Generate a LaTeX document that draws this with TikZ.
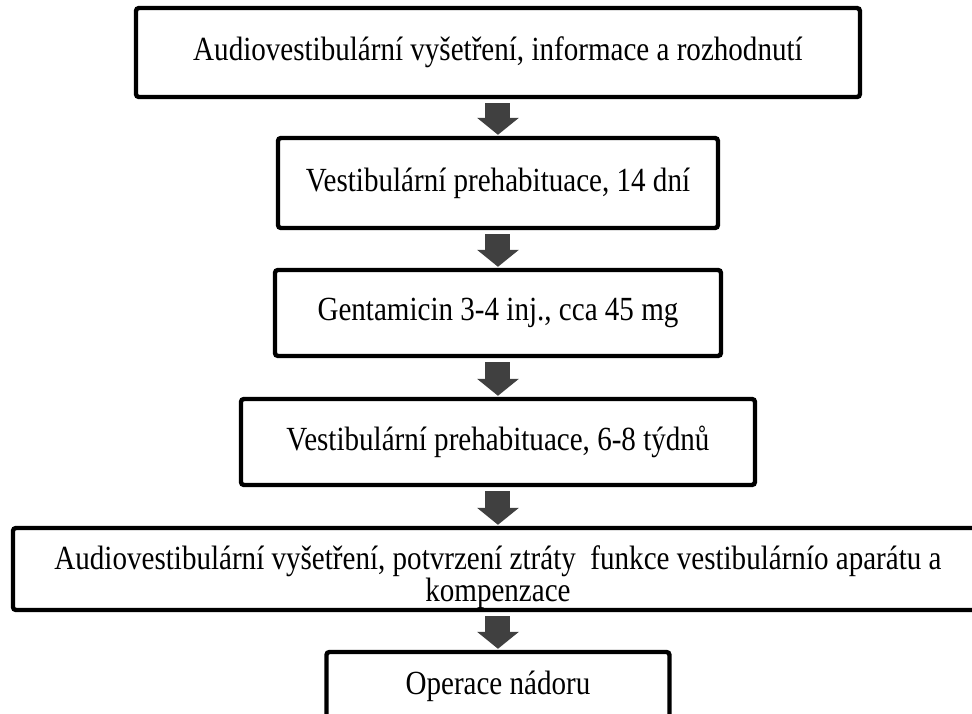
\documentclass[tikz,border=0pt]{standalone}
\usepackage{fontspec}
\setmainfont{Liberation Serif}[FakeStretch=0.86]
\usetikzlibrary{arrows.meta, positioning}
\definecolor{arrowgray}{RGB}{64, 64, 64}

\begin{document}
\begin{tikzpicture}[
  stepbox/.style={draw=black, line width=2.2pt, rounded corners=1.5pt, fill=white, align=center, inner sep=2pt, font=\fontsize{16.9}{15.2}\selectfont},
  flowarrow/.style={draw=arrowgray, line width=12.5pt, -{Triangle[width=20.5pt, length=8.5pt]}, shorten <=2pt, shorten >=0.5pt}
]
  \useasboundingbox (-8.751, 0) rectangle (8.330, -12.530);

  % Steps
  \node[stepbox, minimum width=12.723cm, minimum height=1.564cm] (exam) at (0, -0.923) {Audiovestibulární vyšetření, informace a rozhodnutí};
  \node[stepbox, minimum width=7.732cm, minimum height=1.582cm] (prehabA) at (0, -3.216) {Vestibulární prehabituace, 14 dní};
  \node[stepbox, minimum width=7.838cm, minimum height=1.511cm] (genta) at (0, -5.500) {Gentamicin 3-4 inj., cca 45 mg};
  \node[stepbox, minimum width=9.033cm, minimum height=1.511cm] (prehabB) at (0, -7.767) {Vestibulární prehabituace, 6-8 týdnů};
  \node[stepbox, inner ysep=0pt, minimum width=17.046cm, minimum height=1.441cm] (confirm) at (0, -9.999) {\rule{0pt}{20pt}Audiovestibulární vyšetření, potvrzení ztráty~~funkce vestibulárnío aparátu a\\kompenzace};
  \node[stepbox, minimum width=6.028cm, minimum height=1.195cm] (surgery) at (0, -12.055) {Operace nádoru};

  % Arrows
  \draw[flowarrow] (exam) -- (prehabA);
  \draw[flowarrow] (prehabA) -- (genta);
  \draw[flowarrow] (genta) -- (prehabB);
  \draw[flowarrow] (prehabB) -- (confirm);
  \draw[flowarrow] (confirm) -- (surgery);
\end{tikzpicture}
\end{document}
